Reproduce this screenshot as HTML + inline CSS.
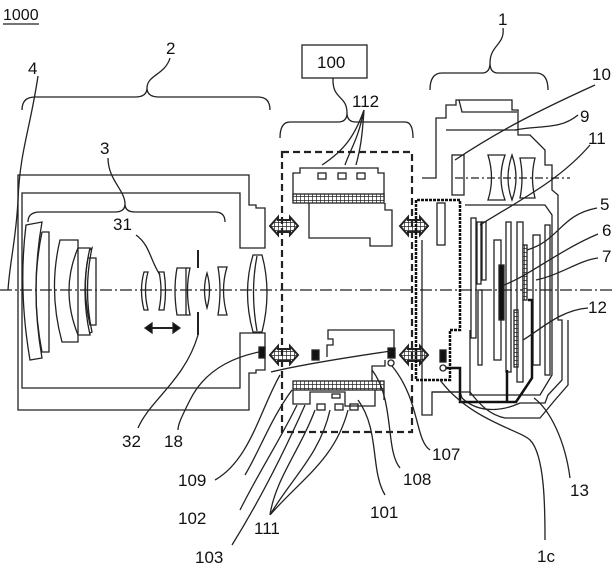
<!DOCTYPE html>
<html><head><meta charset="utf-8"><style>
html,body{margin:0;padding:0;background:#fff}
svg{display:block}
text{font-family:"Liberation Sans",sans-serif;font-size:17px;fill:#111;stroke:none}
</style></head><body>
<svg width="614" height="575" viewBox="0 0 614 575" xmlns="http://www.w3.org/2000/svg">
<defs>
<pattern id="hx" width="4" height="4" patternUnits="userSpaceOnUse"><rect width="4" height="4" fill="#fff"/><path d="M0 0H4M0 0V4" stroke="#222" stroke-width="1.4"/></pattern>
<g id="dar"><path d="M0 0 L8 -9 L8 -6 L20 -6 L20 -9 L28 0 L20 9 L20 6 L8 6 L8 9 Z" fill="url(#hx)" stroke="#222" stroke-width="2"/></g>
</defs>
<g fill="none" stroke="#222" stroke-width="1.3">
<text x="3" y="20" style="font-size:16px">1000</text>
<line x1="3" y1="24" x2="39" y2="24"/>
<path d="M0 290 H614" stroke-dasharray="12 3 2 3"/>
<text x="28" y="74">4</text>
<path d="M38 76 C30 130 20 150 18 200 C16 240 10 260 8 290"/>
<text x="166" y="54">2</text>
<path d="M22 110 Q22 97 35 97 H135 Q147 97 147 88 Q147 97 159 97 H258 Q270 97 270 110"/>
<path d="M147 88 C147 75 165 75 170 58"/>
<text x="100" y="154">3</text>
<path d="M28 222 Q28 212 40 212 H115 Q125 212 125 204 Q125 212 135 212 H215 Q225 212 225 222"/>
<path d="M125 204 C125 190 108 180 108 158"/>
<path d="M18 175 H249 V205 H256 V208 H265 V248 H240 V193 H22 V388 H240 V333 H265 V370 H256 V373 H249 V410 H18 Z"/>
<path d="M26 225 L42 222 Q30 290 42 358 L30 360 Q18 290 26 225 Z"/>
<path d="M42 232 L49 232 V352 L42 352 Q30 290 42 232"/>
<path d="M60 240 L78 240 V342 L62 342 Q48 290 60 240 Z"/>
<path d="M78 248 L90 248 Q80 290 90 335 L78 335 Q60 290 78 248"/>
<path d="M90 250 L92 248 Q83 290 92 332 L90 333"/>
<path d="M88 258 L96 258 V325 L90 325 Q82 290 88 258 Z"/>
<text x="113" y="230">31</text>
<path d="M136 235 C150 245 150 260 160 275"/>
<path d="M144 272 L148 272 Q143 290 148 310 L144 310 Q139 290 144 272 Z"/>
<path d="M159 272 L164 272 Q167 290 164 310 L159 310 Q163 290 159 272 Z"/>
<path d="M177 268 L186 268 V315 L177 315 Q173 290 177 268 Z"/>
<path d="M186 268 L190 268 Q185 290 190 315 L186 315"/>
<path d="M207 273 Q212 290 207 308 Q202 290 207 273 Z"/>
<path d="M218 267 L227 267 Q220 290 227 315 L218 315 Q222 290 218 267 Z"/>
<line x1="198" y1="250" x2="198" y2="268" stroke-width="2"/>
<line x1="198" y1="312" x2="198" y2="335" stroke-width="2"/>
<path d="M147 328 H178" stroke-width="2"/>
<path d="M145 328 L152 323 L152 333 Z M180 328 L173 323 L173 333 Z" fill="#111"/>
<path d="M253 255 Q242 292 253 332 L262 332 Q272 292 262 255 Z"/>
<path d="M257 256 Q250 292 257 331"/>
<rect x="259" y="347" width="6" height="11" fill="#111"/>
<path d="M198 335 C185 380 150 400 138 428"/>
<path d="M259 352 C220 360 200 380 190 400 C180 420 178 425 178 430"/>
<text x="122" y="447">32</text>
<text x="164" y="447">18</text>
<use href="#dar" x="270" y="226"/>
<use href="#dar" x="270" y="355"/>
<use href="#dar" x="400" y="226"/>
<use href="#dar" x="400" y="355"/>
<rect x="282" y="152" width="130" height="280" stroke-width="2.2" stroke-dasharray="7 4"/>
<path d="M280 138 Q280 122 290 122 H338 Q347 122 347 113 Q347 122 356 122 H405 Q413 122 413 138"/>
<path d="M347 113 C347 95 332 100 333 78"/>
<rect x="302" y="45" width="65" height="33"/>
<text x="317" y="68">100</text>
<text x="352" y="107">112</text>
<path d="M364 110 C355 135 345 150 322 165 M364 110 C358 140 350 150 345 165 M364 110 C362 140 360 150 356 165"/>
<path d="M293 200 V173 H300 V168 H378 V173 H384 V200"/>
<rect x="318" y="173" width="8" height="6"/><rect x="338" y="173" width="8" height="6"/><rect x="357" y="173" width="8" height="6"/>
<rect x="293" y="194" width="91" height="9" fill="url(#hx)"/>
<path d="M309 203 V238 H370 V246 H392 V210 H385 V203"/>
<path d="M327 357 V345 H333 V339 H328 V330 H394 V357"/>
<rect x="312" y="350" width="7" height="10" fill="#111"/>
<rect x="388" y="348" width="7" height="10" fill="#111"/>
<circle cx="391" cy="363" r="3"/>
<path d="M271 372 C300 365 350 357 391 351"/>
<rect x="293" y="381" width="91" height="9" fill="url(#hx)"/>
<path d="M372 381 V366 H385 V360 M293 390 V404 H310 V392 H345 V406 M345 392 V406 H375 V390 M384 390 V400"/>
<rect x="317" y="404" width="8" height="6"/><rect x="335" y="404" width="8" height="6"/><rect x="350" y="404" width="8" height="6"/>
<rect x="332" y="394" width="8" height="4"/>
<path d="M292 390 C270 420 260 450 245 475"/>
<path d="M280 375 C260 410 250 460 215 480"/>
<path d="M297 405 C280 440 260 470 240 510"/>
<path d="M305 405 C285 450 260 500 232 545"/>
<path d="M315 410 C300 450 275 480 270 515 M330 410 C320 455 290 480 270 515 M348 410 C335 460 300 480 270 515"/>
<path d="M358 400 C380 430 370 470 385 495"/>
<path d="M372 370 C395 400 385 450 400 468"/>
<path d="M392 366 C420 400 415 440 430 450"/>
<text x="178" y="486">109</text>
<text x="178" y="524">102</text>
<text x="195" y="563">103</text>
<text x="254" y="534">111</text>
<text x="370" y="518">101</text>
<text x="403" y="485">108</text>
<text x="432" y="460">107</text>
<path d="M430 90 Q430 73 442 73 H482 Q490 73 490 63 Q490 73 498 73 H536 Q548 73 548 90"/>
<path d="M490 63 C490 45 505 45 503 28"/>
<text x="498" y="25">1</text>
<path d="M422 178 H436 V118 H446 V105 H456 V100 H512 V110 H518 V135 H530 L545 150 V165 H552 V190 L558 195 V320 H562 V380 L548 395 L545 403 H520 C505 410 480 415 462 398 L460 392 H432 V415 H422 V240"/>
<path d="M446 130 H517 M459 100 L462 112 H517"/>
<rect x="452" y="155" width="12" height="40"/>
<path d="M488 155 L505 155 Q497 178 505 200 L488 200 Q495 178 488 155 Z"/>
<path d="M512 155 Q520 178 512 200 Q504 178 512 155 Z"/>
<path d="M520 158 L535 158 Q530 178 535 198 L520 198 Q524 178 520 158 Z"/>
<path d="M455 178 H570" stroke-dasharray="8 3 2 3"/>
<path d="M465 205 H545 L552 215 V375 L540 395 H470 V330"/>
<path d="M416 200 V380 H450 V330 H460 V200 Z" stroke-width="2.5" stroke="#111" stroke-dasharray="3 1"/>
<rect x="437" y="203" width="8" height="42"/>
<rect x="471" y="218" width="5" height="120"/><rect x="477" y="222" width="4" height="62"/><rect x="482" y="222" width="4" height="58"/>
<rect x="478" y="290" width="4" height="75"/>
<rect x="494" y="240" width="7" height="120"/>
<rect x="506" y="222" width="5" height="150"/>
<rect x="517" y="222" width="6" height="160"/>
<rect x="499" y="265" width="5" height="55" fill="#111"/>
<rect x="523" y="245" width="4" height="55" fill="url(#hx)"/>
<rect x="514" y="310" width="4" height="57" fill="url(#hx)"/>
<rect x="533" y="235" width="7" height="130"/>
<rect x="545" y="225" width="5" height="150"/>
<rect x="440" y="350" width="6" height="12" fill="#111"/>
<circle cx="443" cy="368" r="3"/>
<path d="M446 368 H460 V402 H516 L532 378 V300 H528" stroke-width="2.5" stroke="#111"/>
<path d="M507 402 V370" stroke-width="2.5" stroke="#111"/>
<path d="M432 392 H470 C480 405 490 415 505 418 H540 L555 400 L568 385 V320"/>
<path d="M455 160 C500 130 540 110 595 85"/>
<path d="M515 130 C540 125 560 130 578 115"/>
<path d="M480 225 C520 200 560 180 590 145"/>
<path d="M527 250 C560 240 560 215 597 208"/>
<path d="M504 285 C530 275 560 250 598 234"/>
<path d="M536 280 C560 275 580 260 598 258"/>
<path d="M523 340 C540 330 560 310 588 308"/>
<path d="M534 398 C550 410 565 440 570 478"/>
<path d="M440 380 C470 420 520 430 530 440 C545 455 545 510 545 540"/>
<text x="592" y="80">10</text>
<text x="580" y="122">9</text>
<text x="588" y="144">11</text>
<text x="600" y="210">5</text>
<text x="602" y="236">6</text>
<text x="602" y="262">7</text>
<text x="588" y="313">12</text>
<text x="570" y="496">13</text>
<text x="537" y="562">1c</text>
</g>
</svg>
</body></html>
